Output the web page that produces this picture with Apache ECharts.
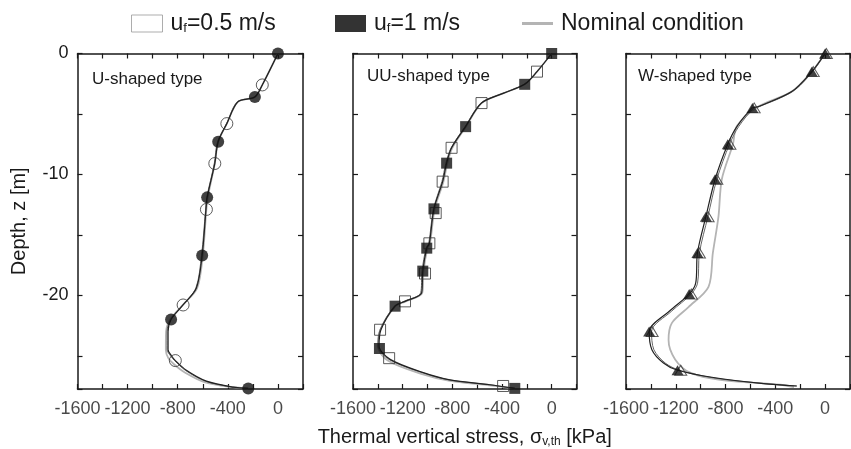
<!DOCTYPE html>
<html>
<head>
<meta charset="utf-8">
<script src="https://cdn.jsdelivr.net/npm/echarts@6/dist/echarts.min.js"></script>
<style>html,body{margin:0;padding:0;background:#fff}#c{width:851px;height:449px}</style>
</head>
<body>
<div id="c"></div>
<script>
// ---------- DATA (stress kPa, depth z m) ----------
const panelTitles = ['U-shaped type', 'UU-shaped type', 'W-shaped type'];
const xTickLabels = [-1600, -1200, -800, -400, 0];
const yTickLabels = [0, -10, -20];

// Panel 1: U-shaped
const U_mark1  = [[0,0],[-184,-3.6],[-477,-7.3],[-565,-11.9],[-605,-16.7],[-853,-22.0],[-237,-27.7]];
const U_mark05 = [[-125,-2.6],[-408,-5.8],[-504,-9.1],[-571,-12.9],[-757,-20.8],[-819,-25.4]];
const U_line1  = [[0,0],[-125,-2.6],[-184,-3.6],[-320,-4.0],[-408,-5.8],[-477,-7.3],[-504,-9.1],[-565,-11.9],[-575,-13.0],[-605,-16.7],[-651,-19.4],[-757,-20.8],[-853,-22.0],[-877,-23.0],[-877,-24.5],[-850,-25.0],[-819,-25.4],[-731,-26.2],[-571,-27.1],[-357,-27.6],[-237,-27.7]];
const U_line05 = [[0,0],[-125,-2.6],[-190,-3.6],[-325,-4.0],[-410,-5.8],[-482,-7.3],[-508,-9.1],[-568,-11.9],[-578,-13.0],[-610,-16.7],[-655,-19.4],[-760,-20.8],[-858,-22.0],[-885,-23.0],[-885,-24.5],[-858,-25.0],[-825,-25.4],[-740,-26.2],[-580,-27.1],[-360,-27.6],[-237,-27.7]];
const U_lineN  = [[0,0],[-125,-2.6],[-184,-3.6],[-320,-4.0],[-408,-5.8],[-477,-7.3],[-504,-9.1],[-560,-11.9],[-572,-13.0],[-600,-16.7],[-645,-19.4],[-760,-20.8],[-860,-22.0],[-893,-23.0],[-895,-24.5],[-875,-25.2],[-830,-25.7],[-740,-26.4],[-580,-27.2],[-360,-27.6],[-237,-27.7]];

// Panel 2: UU-shaped
const UU_mark1  = [[0,0],[-217,-2.55],[-693,-6.05],[-846,-9.07],[-948,-12.85],[-1006,-16.1],[-1038,-18.0],[-1261,-20.9],[-1387,-24.4],[-297,-27.7]];
const UU_mark05 = [[-118,-1.5],[-565,-4.1],[-806,-7.8],[-878,-10.6],[-934,-13.2],[-985,-15.7],[-1020,-18.2],[-1181,-20.5],[-1382,-22.85],[-1309,-25.2],[-391,-27.5]];
const UU_line1  = [[0,0],[-118,-1.5],[-217,-2.55],[-391,-3.3],[-565,-4.1],[-693,-6.05],[-806,-7.8],[-846,-9.07],[-878,-10.6],[-948,-12.85],[-985,-15.7],[-1006,-16.1],[-1038,-18.0],[-1047,-19.8],[-1181,-20.5],[-1261,-20.9],[-1375,-22.85],[-1390,-24.2],[-1301,-25.3],[-1034,-26.4],[-819,-27.0],[-498,-27.4],[-297,-27.7]];
const UU_line05 = [[0,0],[-118,-1.5],[-222,-2.55],[-395,-3.3],[-568,-4.1],[-698,-6.05],[-810,-7.8],[-852,-9.07],[-884,-10.6],[-952,-12.85],[-990,-15.7],[-1012,-16.1],[-1044,-18.0],[-1055,-19.8],[-1188,-20.5],[-1268,-20.9],[-1382,-22.85],[-1398,-24.2],[-1310,-25.3],[-1040,-26.4],[-825,-27.0],[-500,-27.4],[-297,-27.7]];
const UU_lineN  = [[0,0],[-118,-1.5],[-217,-2.55],[-391,-3.3],[-565,-4.1],[-690,-6.05],[-800,-7.8],[-840,-9.07],[-872,-10.6],[-942,-12.85],[-980,-15.7],[-1000,-16.1],[-1032,-18.0],[-1042,-19.8],[-1175,-20.5],[-1258,-20.9],[-1380,-22.85],[-1400,-24.2],[-1320,-25.4],[-1050,-26.5],[-830,-27.05],[-500,-27.45],[-297,-27.7]];

// Panel 3: W-shaped
const W_mark1  = [[0,0],[-107,-1.5],[-584,-4.5],[-782,-7.5],[-884,-10.4],[-958,-13.5],[-1026,-16.5],[-1092,-19.9],[-1414,-23.0],[-1186,-26.2]];
const W_mark05 = [[10,0],[-95,-1.5],[-570,-4.5],[-765,-7.5],[-870,-10.4],[-940,-13.5],[-1010,-16.5],[-1075,-19.9],[-1390,-23.0],[-1160,-26.2]];
const W_line1  = [[0,0],[-107,-1.5],[-268,-3.15],[-540,-4.4],[-584,-4.5],[-709,-6.05],[-782,-7.5],[-884,-10.4],[-958,-13.5],[-1026,-16.5],[-1040,-19.0],[-1092,-19.9],[-1250,-21.3],[-1414,-23.0],[-1392,-24.5],[-1299,-25.6],[-1186,-26.2],[-897,-26.8],[-495,-27.3],[-228,-27.5]];
const W_line05 = [[0,0],[-100,-1.5],[-262,-3.15],[-530,-4.4],[-572,-4.5],[-695,-6.05],[-768,-7.5],[-870,-10.4],[-942,-13.5],[-1010,-16.5],[-1025,-19.0],[-1076,-19.9],[-1232,-21.3],[-1395,-23.0],[-1376,-24.5],[-1285,-25.6],[-1170,-26.2],[-885,-26.85],[-490,-27.3],[-228,-27.5]];
const W_lineN  = [[0,0],[-107,-1.5],[-268,-3.15],[-540,-4.4],[-709,-6.0],[-741,-7.5],[-830,-10.4],[-857,-13.5],[-902,-16.5],[-937,-19.3],[-1100,-21.0],[-1232,-22.3],[-1258,-23.7],[-1205,-25.3],[-1084,-26.4],[-843,-27.0],[-361,-27.4],[-250,-27.6]];

// ---------- CHART ----------
const FONT = 'Liberation Sans';
const INK = '#1a1a1a';
const X_MIN = -1600, X_MAX = 200, Y_MAX = 27.75;
const grids = [
  {left: 77.5, top: 53.5, width: 225.5, height: 335.5},
  {left: 353, top: 53.5, width: 223.5, height: 335.5},
  {left: 626, top: 53.5, width: 224, height: 335.5}
];
const titlePos = [[92, 71], [367, 68], [638, 68]];
const symbols = ['circle', 'rect', 'triangle'];
const symSizes = [12, 11, [12, 10]];
const marks1 = [U_mark1, UU_mark1, W_mark1];
const marks05 = [U_mark05, UU_mark05, W_mark05];
const lines1 = [U_line1, UU_line1, W_line1];
const lines05 = [U_line05, UU_line05, W_line05];
const linesN = [U_lineN, UU_lineN, W_lineN];

const toXY = arr => arr.map(p => [p[0], -p[1]]);
const mkLine = () => ({show: true, onZero: false, lineStyle: {color: INK, width: 1.5}});
const mkTick = () => ({show: true, inside: true, interval: 0, length: 5, lineStyle: {color: INK, width: 1.2}});
const blankLabels = () => ({show: true, interval: 0, formatter: () => ''});

const xAxes = [], yAxes = [], series = [];
grids.forEach((g, i) => {
  xAxes.push({
    type: 'value', gridIndex: i, position: 'bottom', min: X_MIN, max: X_MAX, interval: 200,
    axisLine: mkLine(), axisTick: mkTick(), splitLine: {show: false},
    axisLabel: blankLabels(),
    name: i === 1 ? '{a|Thermal vertical stress, σ}{b|v,th}{a| [kPa]}' : '',
    nameLocation: 'middle', nameGap: 37, nameMoveOverlap: false,
    nameTextStyle: {color: INK, fontFamily: FONT, fontSize: 20,
      rich: {a: {fontSize: 20, fontFamily: FONT, color: INK}, b: {fontSize: 12, fontFamily: FONT, color: INK, verticalAlign: 'bottom', padding: [10, 0, 0, 0]}}}
  });
  xAxes.push({
    type: 'value', gridIndex: i, position: 'top', min: X_MIN, max: X_MAX, interval: 200,
    axisLine: mkLine(), axisTick: mkTick(), axisLabel: blankLabels(), splitLine: {show: false}
  });
  yAxes.push({
    type: 'value', gridIndex: i, position: 'left', inverse: true, min: 0, max: Y_MAX, interval: 5,
    axisLine: mkLine(), axisTick: mkTick(), splitLine: {show: false},
    axisLabel: {show: true, interval: 0, margin: 9, color: INK, fontFamily: FONT, fontSize: 18,
      formatter: v => { if (i !== 0) return ''; const z = -v; return yTickLabels.indexOf(z) >= 0 ? String(z === 0 ? 0 : z) : ''; }},
    name: i === 0 ? 'Depth, z [m]' : '', nameLocation: 'middle', nameGap: 48, nameRotate: 90, nameMoveOverlap: false,
    nameTextStyle: {color: INK, fontFamily: FONT, fontSize: 20}
  });
  yAxes.push({
    type: 'value', gridIndex: i, position: 'right', inverse: true, min: 0, max: Y_MAX, interval: 5,
    axisLine: mkLine(), axisTick: mkTick(), axisLabel: blankLabels(), splitLine: {show: false}
  });
  const xi = i * 2, yi = i * 2;
  // x tick labels, placed through the axis scale at the bottom edge
  series.push({type: 'scatter', name: 'xticklabels', xAxisIndex: xi, yAxisIndex: yi, clip: false, silent: true,
    data: xTickLabels.map(v => [v, Y_MAX]), symbol: 'circle', symbolSize: 0.1,
    itemStyle: {color: 'rgba(0,0,0,0)'},
    label: {show: true, position: 'bottom', distance: 11, color: INK, fontFamily: FONT, fontSize: 18,
      formatter: p => String(p.value[0])}, z: 1});
  series.push({type: 'line', name: 'nominal', xAxisIndex: xi, yAxisIndex: yi, data: toXY(linesN[i]),
    symbol: 'none', smooth: 0.3, lineStyle: {color: '#b4b4b4', width: 1.8}, itemStyle: {color: '#b4b4b4'}, z: 2});
  series.push({type: 'line', name: 'l05', xAxisIndex: xi, yAxisIndex: yi, data: toXY(lines05[i]),
    symbol: 'none', smooth: 0.3, lineStyle: {color: '#666', width: 1}, z: 3});
  series.push({type: 'line', name: 'l1', xAxisIndex: xi, yAxisIndex: yi, data: toXY(lines1[i]),
    symbol: 'none', smooth: 0.3, lineStyle: {color: '#222', width: 1.2}, z: 4});
  series.push({type: 'scatter', name: 'uf05', xAxisIndex: xi, yAxisIndex: yi, data: toXY(marks05[i]),
    symbol: symbols[i], symbolSize: symSizes[i],
    itemStyle: {color: 'rgba(255,255,255,0)', borderColor: '#333', borderWidth: 1}, z: 5});
  series.push({type: 'scatter', name: 'uf1', xAxisIndex: xi, yAxisIndex: yi, data: toXY(marks1[i]),
    symbol: symbols[i], symbolSize: symSizes[i],
    itemStyle: {color: '#111'}, z: 6});
});

const legendRich = {
  a: {fontSize: 23, fontFamily: FONT, color: INK},
  b: {fontSize: 13, fontFamily: FONT, color: INK, verticalAlign: 'bottom', padding: [10, 0, 0, 0]}
};
const legendBase = {
  top: 12, padding: 0, itemWidth: 31, itemHeight: 17, selectedMode: false,
  textStyle: {fontSize: 23, fontFamily: FONT, color: INK, padding: [0, 0, 0, 3], rich: legendRich}
};
const option = {
  animation: false,
  backgroundColor: '#fff',
  grid: grids.map(g => Object.assign({show: false, containLabel: false, outerBoundsMode: 'none'}, g)),
  xAxis: xAxes,
  yAxis: yAxes,
  title: panelTitles.map((t, i) => ({text: t, left: titlePos[i][0], top: titlePos[i][1], padding: 0,
    textStyle: {fontSize: 17, fontWeight: 'normal', fontFamily: FONT, color: INK}})),
  legend: [
    Object.assign({}, legendBase, {left: 131, data: [{name: 'uf05', icon: 'rect', itemStyle: {color: '#fff', borderColor: '#999', borderWidth: 1}}],
      formatter: () => '{a|u}{b|f}{a|=0.5 m/s}'}),
    Object.assign({}, legendBase, {left: 335, data: [{name: 'uf1', icon: 'rect', itemStyle: {color: '#000'}}],
      formatter: () => '{a|u}{b|f}{a|=1 m/s}'}),
    Object.assign({}, legendBase, {left: 522, itemHeight: 3,
      data: [{name: 'nominal', icon: 'rect', itemStyle: {color: '#b4b4b4'}}],
      formatter: () => '{a|Nominal condition}'})
  ],
  series
};
const chart = echarts.init(document.getElementById('c'), null, {renderer: 'canvas'});
chart.setOption(option);
</script>
</body>
</html>
